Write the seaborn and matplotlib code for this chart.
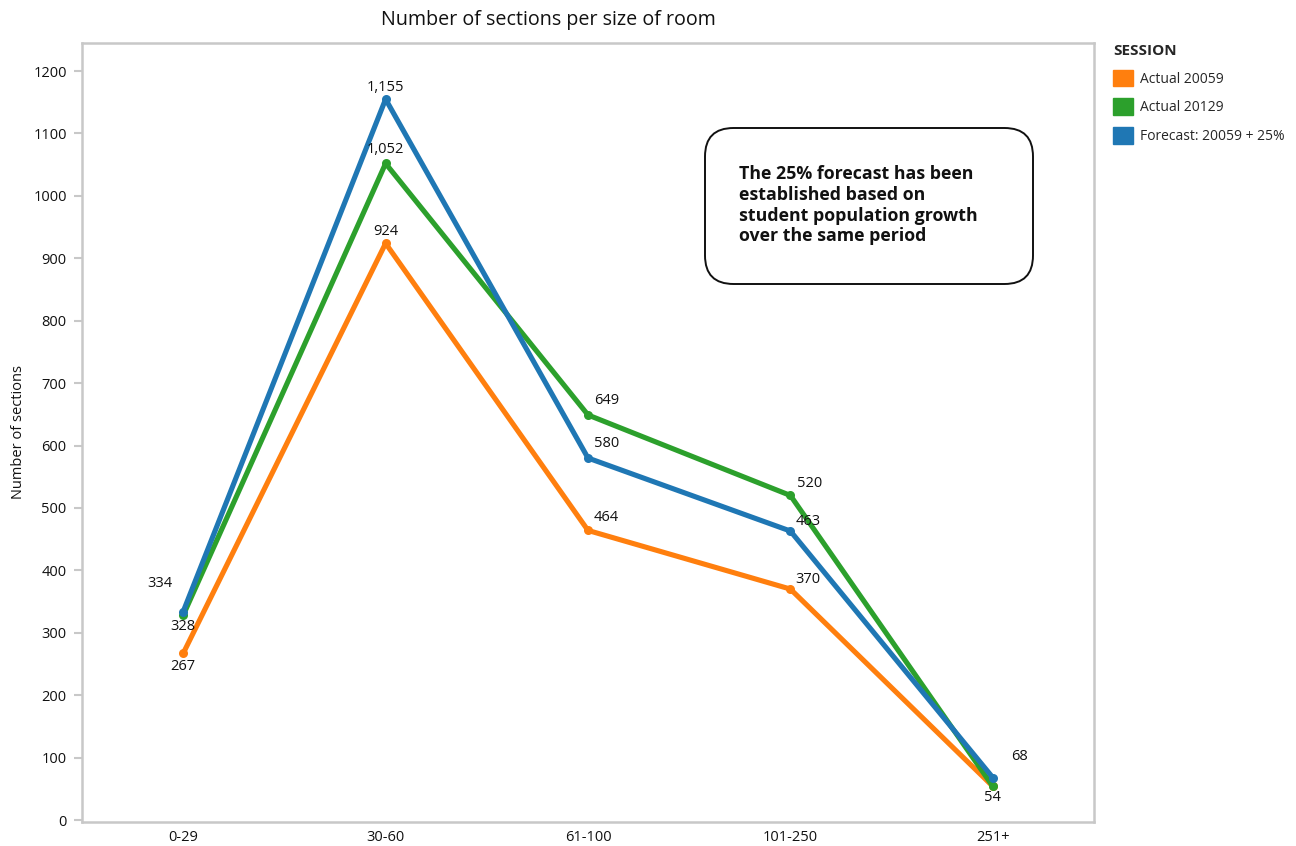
import numpy as np
import pandas as pd
import matplotlib
matplotlib.use("Agg")
import matplotlib.pyplot as plt
import seaborn as sns
from matplotlib.patches import Patch, FancyBboxPatch

# ---------------- data ----------------
room_sizes = ["0-29", "30-60", "61-100", "101-250", "251+"]
series_names = ["Actual 20059", "Actual 20129", "Forecast: 20059 + 25%"]
actual_20059 = [267, 924, 464, 370, 54]
actual_20129 = [328, 1052, 649, 520, 54]
forecast_20059_25 = [334, 1155, 580, 463, 68]
# which points carry a value label (reference hides the overlapping one)
show_20059 = [True, True, True, True, False]
show_20129 = [True, True, True, True, True]
show_forecast = [True, True, True, True, True]
y_ticks = list(range(0, 1300, 100))
title = "Number of sections per size of room"
y_label = "Number of sections"
legend_title = "SESSION"
note = ("The 25% forecast has been\nestablished based on\n"
        "student population growth\nover the same period")

# ---------------- styles ----------------
colors = ["#ff7f0e", "#2ca02c", "#1f77b4"]
# label offsets in pixels (dx, dy up) and horizontal alignment
off_20059 = [(0, -13, "center"), (0, 12, "center"), (6, 13, "left"), (5, 10, "left"), (0, -11, "center")]
off_20129 = [(0, -11, "center"), (0, 14, "center"), (6, 14, "left"), (7, 12, "left"), (0, -11, "center")]
off_forecast = [(-23, 28, "center"), (0, 12, "center"), (6, 15, "left"), (5, 10, "left"), (27, 21, "center")]

W, H, DPI = 1296, 846, 100
FONT = ["Open Sans", "DejaVu Sans"]
FS = 10.5

sns.set_theme(style="white")
plt.rcParams["font.family"] = FONT

df = pd.DataFrame({
    "size": room_sizes * 3,
    "sections": actual_20059 + actual_20129 + forecast_20059_25,
    "session": [series_names[0]] * 5 + [series_names[1]] * 5 + [series_names[2]] * 5,
})

fig = plt.figure(figsize=(W / DPI, H / DPI), dpi=DPI)
L, R, T, B = 82, 1094, 43, 822
ax = fig.add_axes([L / W, 1 - B / H, (R - L) / W, (B - T) / H])

sns.lineplot(data=df, x="size", y="sections", hue="session", hue_order=series_names,
             palette=colors, marker="o", markersize=6.5, markeredgewidth=0,
             linewidth=3.7, sort=False, legend=False, ax=ax)

px = 72 / DPI
for vals, shows, offs in [(actual_20059, show_20059, off_20059),
                          (actual_20129, show_20129, off_20129),
                          (forecast_20059_25, show_forecast, off_forecast)]:
    for i, (v, s, (dx, dy, ha)) in enumerate(zip(vals, shows, offs)):
        if not s:
            continue
        ax.annotate(f"{v:,}", (i, v), xytext=(dx * px, dy * px), textcoords="offset points",
                    ha=ha, va="center", fontsize=FS, color="#111111")

ax.set_xlim(-0.5, 4.5)
ax.set_ylim(-3.2, 1245)
ax.set_yticks(y_ticks)
ax.set_yticklabels([str(t) for t in y_ticks], fontsize=FS, color="#111111")
ax.set_xticks(range(len(room_sizes)))
ax.set_xticklabels(room_sizes, fontsize=FS, color="#111111")
ax.set_xticks(np.arange(-0.5, 5.0, 1.0), minor=True)
ax.tick_params(axis="x", which="major", length=0, pad=6)
ax.tick_params(axis="x", which="minor", length=6, width=1.5, color="#c8c8c8", direction="out")
ax.tick_params(axis="y", which="major", length=6, width=1.5, color="#c8c8c8", direction="out", pad=5,
               left=True)
ax.set_xlabel("")
ax.set_ylabel(y_label, fontsize=FS, color="#111111", labelpad=5)
for sp in ax.spines.values():
    sp.set_color("#c8c8c8")
    sp.set_linewidth(1.8)
ax.grid(False)

fig.text(548 / W, 1 - 20 / H, title, ha="center", va="center", fontsize=14.2, color="#111111")

# annotation box
box = FancyBboxPatch((705 / W, 1 - 284 / H), (1033 - 705) / W, (284 - 128) / H,
                     boxstyle="round,pad=0,rounding_size=0.022", transform=fig.transFigure,
                     facecolor="white", edgecolor="#111111", linewidth=1.4, mutation_aspect=W / H)
fig.add_artist(box)
fig.text(739 / W, 1 - 165 / H, note, ha="left", va="top", fontsize=12.8, fontweight="bold",
         color="#111111", linespacing=1.2)

handles = [Patch(facecolor=c, edgecolor=c, label=n) for c, n in zip(colors, series_names)]
leg = fig.legend(handles=handles, loc="upper left", bbox_to_anchor=(1113 / W, 1 - 44 / H),
                 frameon=False, title=legend_title, alignment="left", fontsize=10,
                 title_fontproperties={"weight": "bold", "size": 11, "family": FONT},
                 handlelength=1.45, handleheight=1.45, handletextpad=0.5, labelspacing=0.85,
                 borderaxespad=0, borderpad=0)

fig.savefig("out.png", dpi=DPI)
